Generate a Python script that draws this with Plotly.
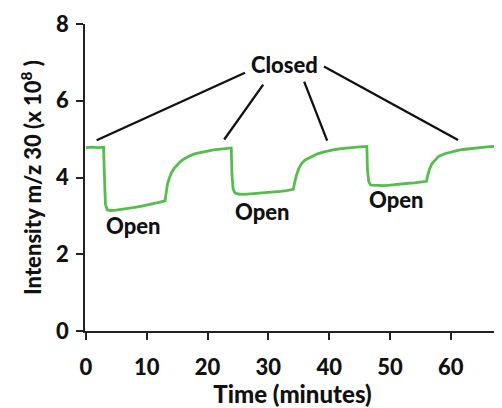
import plotly.graph_objects as go

# Time (minutes) and intensity (x 10^8)
time_min = [0, 1, 2, 2.9, 3.0, 3.2, 3.5, 4, 5, 6, 7, 8, 9, 10, 11, 12,
            13.0, 13.2, 13.4, 13.7, 14.0, 14.5, 15, 15.5, 16, 17, 18, 19, 20, 21, 22, 23,
            23.9, 24.0, 24.2, 24.5, 25, 26, 27, 28, 29, 30, 31, 32, 33,
            34.1, 34.3, 34.6, 35, 35.5, 36, 37, 38, 39, 40, 41, 42, 43, 44, 45,
            46.2, 46.3, 46.5, 46.8, 47, 48, 49, 50, 51, 52, 53, 54, 55,
            56.0, 56.2, 56.5, 56.9, 57.3, 58, 59, 60, 61, 62, 63, 64, 65, 66, 67, 68]
intensity = [4.78, 4.79, 4.78, 4.79, 4.20, 3.30, 3.16, 3.14, 3.15, 3.17, 3.19, 3.22, 3.25, 3.28, 3.31, 3.35,
             3.39, 3.62, 3.82, 3.98, 4.10, 4.24, 4.34, 4.41, 4.47, 4.56, 4.62, 4.66, 4.69, 4.72, 4.74, 4.76,
             4.77, 4.10, 3.70, 3.60, 3.57, 3.56, 3.57, 3.58, 3.60, 3.61, 3.63, 3.64, 3.66,
             3.69, 3.85, 4.05, 4.23, 4.37, 4.45, 4.54, 4.61, 4.66, 4.70, 4.73, 4.75, 4.77, 4.79, 4.80,
             4.81, 4.20, 3.90, 3.81, 3.80, 3.79, 3.79, 3.80, 3.82, 3.83, 3.85, 3.86, 3.88,
             3.90, 4.05, 4.22, 4.36, 4.44, 4.55, 4.62, 4.67, 4.70, 4.73, 4.75, 4.77, 4.79, 4.80, 4.81, 4.82]

x_ticks = [0, 10, 20, 30, 40, 50, 60]
y_ticks = [0, 2, 4, 6, 8]

closed_label = "Closed"
open_label = "Open"
x_title = "Time (minutes)"
y_title = "Intensity m/z 30 (x 10<sup>8</sup> )"

FONT = "Lato"
GREEN = "rgb(84,190,76)"
INK = "#111"

fig = go.Figure()
fig.add_trace(go.Scatter(x=time_min, y=intensity, mode="lines",
                         line=dict(color=GREEN, width=2.8), showlegend=False,
                         hoverinfo="skip"))

# Callout lines from "Closed" to the closed periods
callouts = [((1.76, 4.97), (26.15, 6.73)),
            ((22.74, 4.99), (29.15, 6.42)),
            ((39.67, 4.96), (35.89, 6.50)),
            ((61.2, 4.98), (39.14, 6.89))]
for (x0, y0), (x1, y1) in callouts:
    fig.add_shape(type="line", x0=x0, y0=y0, x1=x1, y1=y1, xref="x", yref="y",
                  line=dict(color=INK, width=2.3))

fig.add_annotation(x=32.7, y=6.95, text=closed_label, showarrow=False,
                   font=dict(family=FONT, size=22, color=INK, weight=900))
for ox, oy in [(7.86, 2.74), (29.0, 3.12), (51.1, 3.43)]:
    fig.add_annotation(x=ox, y=oy, text=open_label, showarrow=False,
                       font=dict(family=FONT, size=22, color=INK, weight=900))

# the page body adds an 8px offset, so the figure is sized to fit the window
fig.update_layout(
    width=494, height=400,
    margin=dict(l=77, r=2, t=9, b=77),
    plot_bgcolor="white", paper_bgcolor="white",
    font=dict(family=FONT, color=INK),
)
fig.update_xaxes(range=[-0.16, 68.1], tickvals=x_ticks, ticks="outside", ticklen=7,
                 tickwidth=1.6, tickcolor="#222", showline=True, linecolor="#222",
                 linewidth=1.6, showgrid=False, zeroline=False,
                 ticklabelstandoff=9, ticklabeloverflow="allow",
                 tickfont=dict(family=FONT, size=22, weight=900),
                 title=dict(text=x_title, font=dict(family=FONT, size=24, weight=900),
                            standoff=8))
fig.update_yaxes(range=[0, 8], tickvals=y_ticks, ticks="outside", ticklen=7,
                 tickwidth=1.6, tickcolor="#222", showline=True, linecolor="#222",
                 linewidth=1.6, showgrid=False, zeroline=False,
                 ticklabelstandoff=3, ticklabeloverflow="allow",
                 tickfont=dict(family=FONT, size=22, weight=900),
                 title=dict(text=y_title, font=dict(family=FONT, size=22, weight=900),
                            standoff=8))

fig.write_html("out.html")
